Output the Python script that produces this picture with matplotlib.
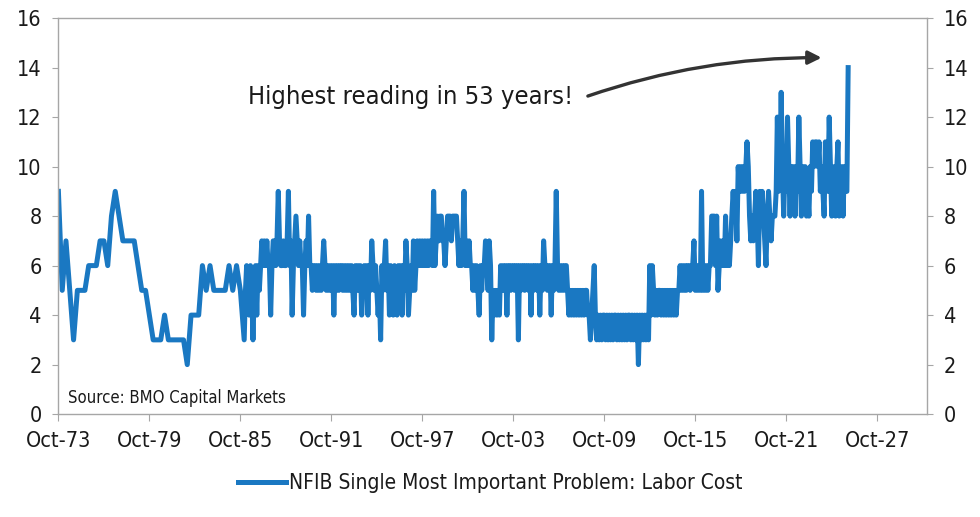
import numpy as np
import pandas as pd
import matplotlib
matplotlib.use("Agg")
import matplotlib.pyplot as plt
import matplotlib.dates as mdates
from matplotlib import font_manager

# look for a narrow face (the reference uses a condensed sans)
narrow = [f for f in font_manager.fontManager.ttflist
          if f.stretch in ("condensed", "semi-condensed", "extra-condensed")
          and f.weight in (400, "normal", "regular")
          and not f.style == "italic"]
narrow.sort(key=lambda f: (f.name not in ("Noto Sans", "DejaVu Sans", "Liberation Sans", "Open Sans", "Roboto"),
                           f.stretch != "condensed"))
if narrow:
    plt.rcParams['font.family'] = [narrow[0].name, 'DejaVu Sans']
    plt.rcParams['font.stretch'] = narrow[0].stretch
    size_scale = 1.0
else:
    plt.rcParams['font.family'] = ['DejaVu Sans']
    size_scale = 0.85

# Quarterly survey readings, Oct-73 .. Oct-85
quarterly_values = [
    9,
    5, 7, 5, 3,   # 1974
    5, 5, 5, 6,   # 1975
    6, 6, 7, 7,   # 1976
    6, 8, 9, 8,   # 1977
    7, 7, 7, 7,   # 1978
    6, 5, 5, 4,   # 1979
    3, 3, 3, 4,   # 1980
    3, 3, 3, 3,   # 1981
    3, 2, 4, 4,   # 1982
    4, 6, 5, 6,   # 1983
    5, 5, 5, 5,   # 1984
    6, 5, 6, 5,   # 1985
]

# Monthly readings, Jan-86 .. Nov-25
monthly_values = [
    3, 5, 6, 5, 4, 6, 5, 3, 5, 6, 4, 6,        # 1986
    5, 6, 7, 6, 7, 6, 7, 6, 6, 4, 6, 7,        # 1987
    7, 6, 7, 9, 7, 6, 6, 7, 6, 6, 7, 9,        # 1988
    6, 7, 4, 6, 7, 8, 7, 6, 7, 6, 6, 4,        # 1989
    6, 7, 6, 8, 6, 6, 5, 6, 6, 5, 6, 5,        # 1990
    6, 5, 6, 7, 6, 5, 6, 5, 6, 5, 6, 4,        # 1991
    6, 5, 6, 5, 6, 6, 5, 6, 5, 6, 5, 6,        # 1992
    5, 6, 5, 4, 6, 5, 6, 5, 6, 4, 5, 6,        # 1993
    5, 6, 4, 6, 5, 7, 6, 5, 6, 5, 4, 5,        # 1994
    3, 6, 5, 6, 7, 5, 6, 4, 6, 5, 4, 6,        # 1995
    5, 4, 6, 5, 6, 4, 6, 5, 7, 6, 4, 5,        # 1996
    6, 5, 7, 5, 6, 7, 6, 7, 6, 7, 6, 7,        # 1997
    6, 7, 6, 7, 7, 6, 9, 6, 7, 8, 7, 8,        # 1998
    8, 7, 7, 6, 7, 8, 8, 8, 7, 8, 8, 8,        # 1999
    8, 7, 6, 7, 6, 7, 9, 6, 7, 6, 7, 6,        # 2000
    6, 5, 6, 5, 6, 5, 4, 6, 5, 6, 6, 7,        # 2001
    6, 5, 7, 6, 3, 5, 4, 5, 4, 5, 4, 6,        # 2002
    5, 6, 5, 6, 4, 6, 6, 5, 6, 6, 5, 6,        # 2003
    6, 3, 6, 5, 6, 6, 5, 6, 6, 5, 6, 4,        # 2004
    6, 5, 6, 6, 5, 6, 4, 6, 5, 7, 6, 6,        # 2005
    5, 6, 6, 4, 6, 5, 6, 9, 6, 5, 6, 5,        # 2006
    6, 5, 6, 6, 5, 4, 5, 4, 5, 4, 5, 4,        # 2007
    5, 4, 5, 4, 5, 4, 5, 5, 4, 4, 3, 4,        # 2008
    5, 6, 4, 3, 4, 3, 4, 3, 4, 4, 3, 4,        # 2009
    3, 4, 3, 4, 3, 4, 4, 3, 4, 3, 4, 3,        # 2010
    4, 3, 4, 3, 4, 4, 3, 4, 3, 4, 3, 4,        # 2011
    2, 4, 3, 4, 3, 4, 3, 4, 3, 6, 4, 6,        # 2012
    5, 4, 5, 4, 5, 5, 4, 5, 4, 5, 4, 5,        # 2013
    4, 5, 4, 5, 4, 5, 4, 5, 5, 6, 5, 6,        # 2014
    5, 6, 5, 6, 6, 5, 6, 6, 7, 5, 6, 5,        # 2015
    6, 5, 9, 5, 6, 5, 6, 5, 6, 6, 8, 8,        # 2016
    8, 6, 8, 5, 6, 7, 6, 7, 6, 8, 6, 7,        # 2017
    6, 7, 8, 9, 8, 9, 7, 10, 9, 10, 9, 10,     # 2018
    9, 10, 11, 10, 8, 7, 8, 7, 8, 9, 8, 6,     # 2019
    9, 8, 9, 8, 7, 6, 8, 9, 8, 7, 8, 8,        # 2020
    8, 9, 12, 9, 10, 13, 10, 8, 10, 9, 12, 10, # 2021
    8, 10, 9, 10, 8, 10, 9, 12, 10, 8, 10, 9,  # 2022
    10, 8, 9, 8, 10, 9, 11, 10, 11, 11, 10, 11,  # 2023
    9, 10, 9, 8, 11, 10, 9, 12, 10, 8, 9, 10,  # 2024
    8, 10, 11, 8, 9, 10, 8, 10, 9, 9, 14,      # 2025
]

series_label = "NFIB Single Most Important Problem: Labor Cost"
y_ticks = [0, 2, 4, 6, 8, 10, 12, 14, 16]
tick_years = list(range(1973, 2028, 6))

q_dates = pd.date_range("1973-10-01", periods=len(quarterly_values), freq="3MS")
m_dates = pd.date_range("1986-01-01", periods=len(monthly_values), freq="MS")
dates = q_dates.append(m_dates)
values = np.array(quarterly_values + monthly_values)

fig = plt.figure(figsize=(9.8, 5.17), dpi=100)
ax = fig.add_axes([0.0596, 0.199, 0.8864, 0.766])

line_color = "#1a78c2"
spine_color = "#a6a6a6"
text_color = "#1a1a1a"

ax.plot(dates, values, color=line_color, lw=3.6, solid_joinstyle="round",
        label=series_label)

ax.set_ylim(0, 16)
ax.set_yticks(y_ticks)
ax.set_xlim(pd.Timestamp("1973-10-01"), pd.Timestamp("2031-01-15"))
ax.set_xticks([pd.Timestamp(f"{y}-10-01") for y in tick_years])
ax.xaxis.set_major_formatter(mdates.DateFormatter("%b-%y"))

for side in ["left", "right", "top", "bottom"]:
    ax.spines[side].set_color(spine_color)
    ax.spines[side].set_linewidth(1.0)

tick_size = 15.5 * size_scale
ax.tick_params(axis="y", which="both", left=True, right=True, labelleft=True,
               labelright=True, length=4, color=spine_color, labelsize=tick_size,
               labelcolor=text_color, pad=8)
ax.tick_params(axis="x", length=5, color=spine_color, labelsize=tick_size,
               labelcolor=text_color, pad=7)

ax.text(0.011, 0.04, "Source: BMO Capital Markets", transform=ax.transAxes,
        fontsize=12 * size_scale, va="center", ha="left", color=text_color)

ax.text(pd.Timestamp("1997-01-01"), 12.8, "Highest reading in 53 years!",
        fontsize=18.3 * size_scale, ha="center", va="center", color=text_color)
ax.annotate("", xy=(pd.Timestamp("2024-02-01"), 14.4),
            xytext=(pd.Timestamp("2008-09-01"), 12.85),
            arrowprops=dict(arrowstyle="-|>", color="#333333", lw=2.4,
                            mutation_scale=20,
                            connectionstyle="arc3,rad=-0.085",
                            shrinkA=0, shrinkB=0))

fig.legend(loc="lower center", bbox_to_anchor=(0.5, 0.01), frameon=False,
           fontsize=15 * size_scale, handlelength=2.3, handletextpad=0.15,
           labelcolor=text_color)

fig.savefig("out.png", dpi=100)
